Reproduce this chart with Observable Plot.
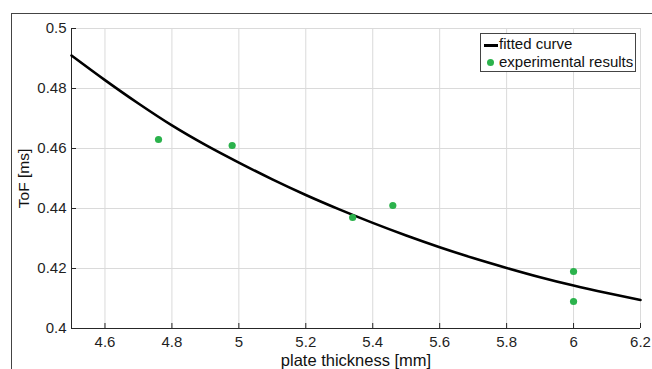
<!DOCTYPE html>
<html>
<head>
<meta charset="utf-8">
<script src="https://cdn.jsdelivr.net/npm/d3@7"></script>
<script src="https://cdn.jsdelivr.net/npm/@observablehq/plot@0.6"></script>
<style>
  html, body { margin: 0; padding: 0; background: #fff; overflow: hidden; width: 652px; height: 369px; }
  #wrap { position: relative; width: 652px; height: 369px; overflow: hidden; font-family: "Liberation Sans", Arial, Helvetica, sans-serif; }
  #frame { position: absolute; left: 11px; top: 13px; width: 700px; height: 420px; border: 1.5px solid #444; box-sizing: border-box; pointer-events: none; }
  #chart { position: absolute; left: 0; top: 0; }
  #legend { position: absolute; left: 480px; top: 33px; width: 156px; height: 39px; box-sizing: border-box; border: 1px solid #444; background: #fff; font-size: 15px; color: #111; }
  .row { position: absolute; left: 0; height: 18px; line-height: 18px; white-space: nowrap; }
  .swline { position: absolute; left: 3px; top: 9px; width: 14px; height: 2.5px; background: #000; }
  .swdot { position: absolute; left: 6px; top: 6px; width: 7px; height: 7px; border-radius: 50%; background: #2bb24c; }
  .lbl { position: absolute; left: 18px; top: 0; }
</style>
</head>
<body>
<div id="wrap">
  <div id="chart"></div>
  <div id="frame"></div>
  <div id="legend">
    <div class="row" style="top:1px"><div class="swline"></div><span class="lbl">fitted curve</span></div>
    <div class="row" style="top:19px"><div class="swdot"></div><span class="lbl">experimental results</span></div>
  </div>
</div>
<script>
// Fitted curve
const curveX = [4.5, 4.6, 4.7, 4.8, 4.9, 5.0, 5.1, 5.2, 5.3, 5.4, 5.5, 5.6, 5.7, 5.8, 5.9, 6.0, 6.1, 6.2];
const curveY = [0.491, 0.4828, 0.4750, 0.4677, 0.4612, 0.4553, 0.4497, 0.4445, 0.4397, 0.4352, 0.4310, 0.4271, 0.4235, 0.4202, 0.4171, 0.4143, 0.4118, 0.4095];
// Experimental results
const expX = [4.76, 4.98, 5.34, 5.46, 6.0, 6.0];
const expY = [0.463, 0.461, 0.437, 0.441, 0.419, 0.409];
// Ticks
const xTicks = [4.6, 4.8, 5.0, 5.2, 5.4, 5.6, 5.8, 6.0, 6.2];
const yTicks = [0.4, 0.42, 0.44, 0.46, 0.48, 0.5];

const curve = curveX.map((x, i) => ({x, y: curveY[i]}));
const exp = expX.map((x, i) => ({x, y: expY[i]}));
const fmt = d3.format("~g");

const plot = Plot.plot({
  width: 652,
  height: 369,
  marginLeft: 71,
  marginRight: 12,
  marginTop: 28,
  marginBottom: 41,
  style: { fontFamily: "'Liberation Sans', Arial, Helvetica, sans-serif", fontSize: "15px", color: "#1f1f1f", background: "transparent" },
  x: { domain: [4.5, 6.2] },
  y: { domain: [0.4, 0.5] },
  marks: [
    Plot.gridX(xTicks, { stroke: "#dadada", strokeOpacity: 1 }),
    Plot.gridY(yTicks, { stroke: "#dadada", strokeOpacity: 1 }),
    Plot.ruleY([0.4], { stroke: "#262626", strokeWidth: 1 }),
    Plot.ruleX([4.5], { stroke: "#262626", strokeWidth: 1 }),
    Plot.axisX(xTicks, { tickSize: -5, tickPadding: 13, tickFormat: fmt, label: null, fontSize: 15, fill: "#1f1f1f", stroke: "#262626" }),
    Plot.axisY(yTicks, { tickSize: -5, tickPadding: 10, tickFormat: fmt, label: null, fontSize: 15, fill: "#1f1f1f", stroke: "#262626" }),
    Plot.axisX({ ticks: [], label: "plate thickness [mm]", labelAnchor: "center", labelArrow: "none", labelOffset: 37, fontSize: 16.5, fill: "#111" }),
    Plot.axisY({ ticks: [], label: "ToF [ms]", labelAnchor: "center", labelArrow: "none", labelOffset: 54, fontSize: 15.5, fill: "#111" }),
    Plot.line(curve, { x: "x", y: "y", stroke: "#000", strokeWidth: 2.6, curve: "monotone-x" }),
    Plot.dot(exp, { x: "x", y: "y", r: 3.6, fill: "#2bb24c", stroke: "none" })
  ]
});
document.getElementById("chart").appendChild(plot);
</script>
</body>
</html>
